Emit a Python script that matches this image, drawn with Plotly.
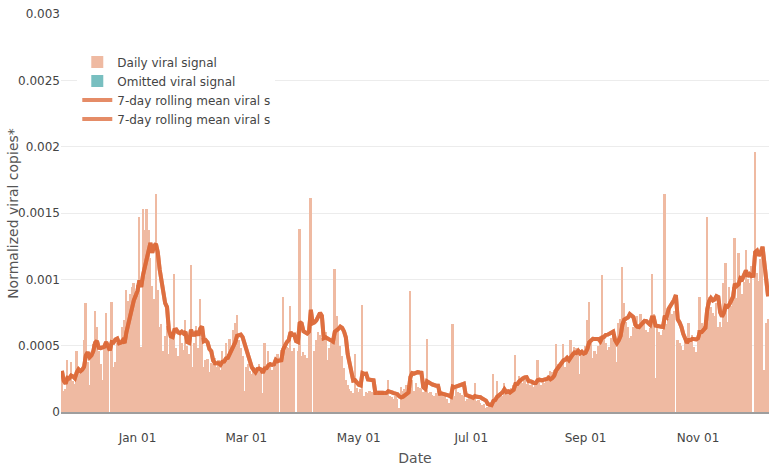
import pandas as pd
import plotly.graph_objects as go

# ---- data (values in units of 1e-4 normalized viral copies) ----
start_date = "2022-11-21"
daily_signal_e4 = [
    3.1, 1.6, 1.7, 3.9, 2.4, 3.8, 2.3,
    2.1, 4.6, 3.4, 2.9, 3.2, 5.4, 8.2,
    3.8, 2.0, 4.4, 5.1, 7.6, 6.4, 4.6,
    3.6, 2.4, 4.8, 7.5, 5.0, None, 8.3,
    3.4, 3.8, 5.2, 5.4, 5.3, 6.4, 6.9,
    9.2, 8.4, 8.9, 9.4, 9.7, 8.8, 9.6,
    14.7, 4.9, 15.3, 13.7, 15.3, 13.7, 11.6,
    9.5, 8.5, 16.4, 9.2, 6.4, 6.6, 4.6,
    5.7, 6.5, 4.4, 5.7, 6.0, 10.4, 4.8,
    4.2, 6.1, 5.2, 4.7, 6.9, 5.0, 4.4,
    11.1, 3.4, 5.2, 6.5, 4.8, 8.5, 5.6,
    3.4, 3.9, 4.0, 3.0, 3.7, 3.6, 4.1,
    3.4, 3.9, 3.2, 4.6, 3.9, 5.2, 4.4,
    5.5, 4.9, 6.2, 6.7, 7.3, 5.4, 4.8,
    4.2, 1.6, 3.4, 3.6, 3.1, 2.9, 3.4,
    3.0, 3.3, 3.6, 3.1, 1.4, 5.2, 3.5,
    4.6, 3.8, 3.2, 3.4, 3.9, 4.4, None,
    4.7, 8.7, 5.0, 4.9, 4.8, 8.0, 4.6,
    4.8, None, 4.6, 13.8, 4.2, 4.5, 4.3,
    4.1, 6.9, 16.1, None, 4.6, 5.4, 6.0,
    5.8, 5.6, 6.0, 6.0, 3.9, 4.8, 5.2,
    5.6, 10.8, 7.2, 6.4, 5.0, 4.2, 3.3,
    2.4, 2.0, 1.7, 1.6, 1.4, 4.4, 1.8,
    1.5, 1.7, 8.1, 1.2, 1.5, 1.4, 1.6,
    1.5, 1.4, 1.5, 1.3, 1.6, 1.4, 1.5,
    1.3, 1.5, 2.4, 1.2, 1.1, 1.0, 1.2,
    1.0, 0.3, 1.9, 1.6, 1.7, 2.0, 1.8,
    9.1, 2.4, 1.6, 2.2, 1.9, 1.8, 1.7,
    1.5, 1.6, 5.5, 1.4, 1.5, 1.3, 1.2,
    1.4, 1.6, 1.3, 1.5, 1.3, 1.2, 1.0,
    0.7, 1.1, 6.6, 1.2, 1.7, 1.5, 1.4,
    1.3, 1.2, 0.8, 1.0, 1.2, 1.1, 0.9,
    2.2, 0.8, 0.9, 0.7, 0.5, 0.6, 0.3,
    0.4, 0.5, 0.6, 2.9, 1.0, 2.3, 1.1,
    1.3, 1.2, 2.2, 1.4, 1.4, 1.7, 1.8,
    2.0, 4.3, 2.2, 2.7, 2.5, 2.2, 2.4,
    2.1, 2.4, 2.0, 2.3, 1.9, 2.2, 3.9,
    2.4, 2.0, 2.3, 2.2, 2.5, 2.8, 3.1,
    3.0, 3.2, 5.1, 3.6, 3.4, 3.8, 5.1,
    3.4, 4.2, 3.9, 5.4, 4.5, 4.9, 4.8,
    4.6, 2.9, 4.7, 4.4, 5.0, 6.9, 8.3,
    5.2, 4.1, 4.6, 4.4, 5.0, 5.7, 10.3,
    5.5, 5.2, 4.7, 4.9, 5.6, 6.2, 5.9,
    3.8, 6.7, 7.0, 10.9, 8.2, 6.8, 6.4,
    5.6, 5.7, 6.4, 6.9, 7.2, 6.6, 7.4,
    6.9, 6.7, 6.2, 6.0, 6.3, 10.4, 7.4,
    2.6, 6.4, 6.0, 5.8, 6.2, 16.4, 6.6,
    7.0, 7.9, 7.4, 7.6, None, 5.4, 5.2,
    5.0, 4.7, 5.6, 5.4, 6.7, 5.4, 5.8,
    4.9, 4.5, 6.2, 8.7, 6.7, 6.5, 6.9,
    14.7, 8.7, 7.9, 7.5, 7.2, 8.2, 6.4,
    6.8, 6.4, 9.7, 11.2, 6.8, 9.4, 8.0,
    9.4, 13.1, 8.6, 12.0, 10.1, 8.9, 9.8,
    12.2, 10.0, 9.7, 11.0, None, 19.6, 10.5,
    9.9, 11.5, 12.2, 3.2, 6.7, 7.0,
]
omitted_dates = ["2022-11-21"]
omitted_values = [None]
y_tick_values = [0, 0.0005, 0.001, 0.0015, 0.002, 0.0025, 0.003]
y_tick_labels = ["0", "0.0005", "0.001", "0.0015", "0.002", "0.0025", "0.003"]
legend_names = [
    "Daily viral signal",
    "Omitted viral signal",
    "7-day rolling mean viral s",
    "7-day rolling mean viral s",
]
x_title = "Date"
y_title = "Normalized viral copies*"

# ---- derived series ----
dates = pd.date_range(start_date, periods=len(daily_signal_e4), freq="D")
daily = pd.Series([v * 1e-4 if v is not None else None for v in daily_signal_e4],
                  index=dates, dtype=float)
rolling = daily.rolling(7, min_periods=1).mean()

BAR_COLOR = "#efbaa2"
OMIT_COLOR = "#78bfc0"
LINE_COLOR = "#dc6634"

fig = go.Figure()
fig.add_trace(go.Bar(x=dates, y=daily, name=legend_names[0],
                     marker=dict(color=BAR_COLOR, line=dict(width=0))))
fig.add_trace(go.Bar(x=pd.to_datetime(omitted_dates), y=omitted_values, name=legend_names[1],
                     marker=dict(color=OMIT_COLOR, line=dict(width=0))))
fig.add_trace(go.Scatter(x=dates, y=rolling, mode="lines", name=legend_names[2],
                         line=dict(color=LINE_COLOR, width=4), opacity=0.75))
fig.add_trace(go.Scatter(x=dates, y=rolling, mode="lines", name=legend_names[3],
                         line=dict(color=LINE_COLOR, width=4), opacity=0.75))

fig.update_layout(
    template="none",
    width=780, height=468,
    margin=dict(l=61, r=11, t=14, b=56, pad=0, autoexpand=False),
    paper_bgcolor="white", plot_bgcolor="white",
    font=dict(family="DejaVu Sans", size=12, color="#444"),
    barmode="overlay", bargap=0,
    showlegend=True,
    legend=dict(x=0.023, y=0.916, xanchor="left", yanchor="top",
                bgcolor="white", borderwidth=0, font=dict(size=12, color="#444"),
                traceorder="normal"),
    xaxis=dict(type="date", range=["2022-11-20 12:00", "2023-12-09 12:00"],
               tickformat="%b %d", dtick="M2", tick0="2023-01-01",
               showgrid=False, zeroline=False, showline=True,
               linecolor="#9e9e9e", linewidth=1.5,
               ticks="outside", ticklen=14, tickcolor="rgba(0,0,0,0)",
               automargin=False,
               title=dict(text=x_title, font=dict(size=14, color="#555"), standoff=9)),
    yaxis=dict(range=[0, 0.003], tickvals=y_tick_values, ticktext=y_tick_labels,
               showgrid=True, gridcolor="#ececec", gridwidth=1,
               zeroline=False, showline=False, ticks="", automargin=False),
    annotations=[dict(text=y_title, textangle=-90, xref="paper", yref="paper",
                      x=-0.068, y=0.5, xanchor="center", yanchor="middle",
                      showarrow=False, font=dict(size=14, color="#555"))],
)

fig.write_html(
    "out.html",
    config={"displayModeBar": False},
    post_script="document.body.style.margin='0px';document.body.style.overflow='hidden';",
)
